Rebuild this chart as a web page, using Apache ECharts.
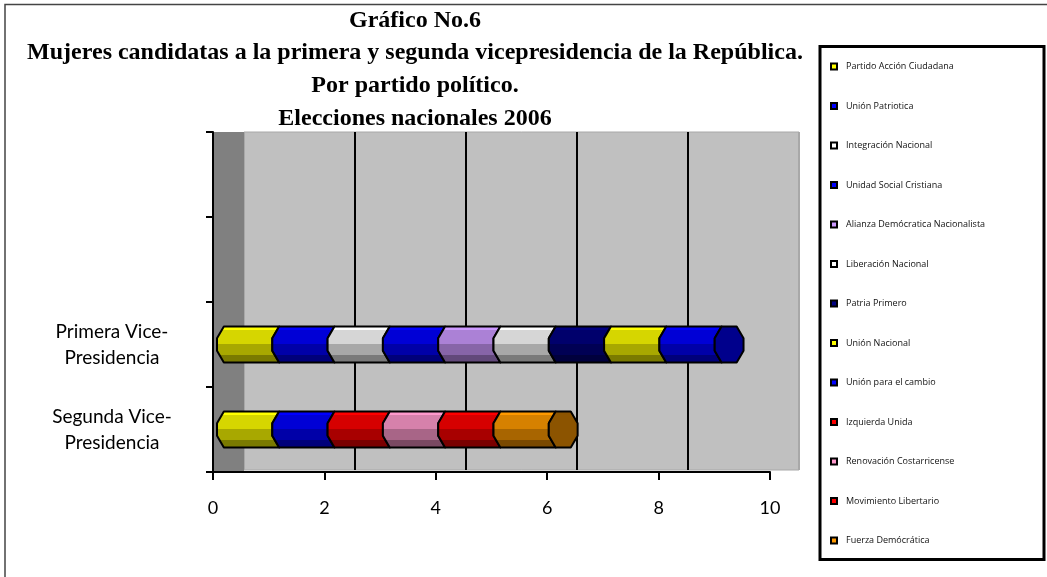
<!DOCTYPE html>
<html><head><meta charset="utf-8">
<script src="https://cdn.jsdelivr.net/npm/echarts@6/dist/echarts.min.js"></script>
<style>html,body{margin:0;padding:0;background:#fff}#c{width:1047px;height:577px}</style>
</head><body><div id="c"></div>
<script>
// ---- data ----
const categories = ['', '', 'Primera Vice-\nPresidencia', 'Segunda Vice-\nPresidencia'];
const parties = ['Partido Acción Ciudadana', 'Unión Patriotica', 'Integración Nacional', 'Unidad Social Cristiana',
  'Alianza Demócratica Nacionalista', 'Liberación Nacional', 'Patria Primero', 'Unión Nacional',
  'Unión para el cambio', 'Izquierda Unida', 'Renovación Costarricense', 'Movimiento Libertario', 'Fuerza Demócrática'];
const primera = [1, 1, 1, 1, 1, 1, 1, 1, 1, 0, 0, 0, 0];
const segunda = [1, 1, 0, 0, 0, 0, 0, 0, 0, 1, 1, 1, 1];
const xMin = 0, xMax = 10, xInterval = 2;
const titleLines = ['Gráfico No.6', 'Mujeres candidatas a la primera y segunda vicepresidencia de la República.',
  'Por partido político.', 'Elecciones nacionales 2006'];

// ---- styles ----
const partyColors = ['#ffff00', '#0000ff', '#ffffff', '#0000ff', '#cc99ff', '#ffffff', '#000080', '#ffff00',
  '#0000ff', '#ff0000', '#ff99cc', '#ff0000', '#ff9900'];

function shade(hex, f) {
  const n = parseInt(hex.slice(1), 16);
  const r = Math.round(((n >> 16) & 255) * f), g = Math.round(((n >> 8) & 255) * f), b = Math.round((n & 255) * f);
  return 'rgb(' + r + ',' + g + ',' + b + ')';
}
function grad(c) {
  const s = [1, 0.84, 0.66, 0.48];
  return new echarts.graphic.LinearGradient(0, 0, 0, 1, [
    {offset: 0, color: shade(c, s[0])}, {offset: 0.12, color: shade(c, s[0])},
    {offset: 0.12, color: shade(c, s[1])}, {offset: 0.48, color: shade(c, s[1])},
    {offset: 0.48, color: shade(c, s[2])}, {offset: 0.77, color: shade(c, s[2])},
    {offset: 0.77, color: shade(c, s[3])}, {offset: 1, color: shade(c, s[3])}
  ]);
}

// stacking
const rows = [[2, primera], [3, segunda]];
const starts = {}, lastIdx = {};
rows.forEach(([ci, arr]) => {
  let acc = 0; starts[ci] = [];
  arr.forEach((v, k) => { starts[ci][k] = acc; acc += v; if (v > 0) lastIdx[ci] = k; });
});

function renderItem(params, api) {
  const ci = api.value(0), s = api.value(1), e = api.value(2), last = api.value(3);
  const a = api.coord([s, ci]), b = api.coord([e, ci]);
  const band = api.size([0, 1])[1];
  const h = band * 0.212, d = h * 0.38, m = h * 0.35, cy = a[1];
  const top = cy - h, bot = cy + h, x0 = a[0], x1 = b[0];
  const base = partyColors[params.seriesIndex];
  const children = [{
    type: 'polygon',
    shape: {points: [[x0 + d, top], [x1 + d, top], [x1, cy - m], [x1, cy + m], [x1 + d, bot], [x0 + d, bot], [x0, cy + m], [x0, cy - m]]},
    style: {fill: grad(base), stroke: '#000', lineWidth: 2, lineJoin: 'round'}
  }];
  if (last) {
    const W = h * 1.6;
    children.push({
      type: 'polygon',
      shape: {points: [[x1, cy - m], [x1 + d, top], [x1 + W - d, top], [x1 + W, cy - m], [x1 + W, cy + m], [x1 + W - d, bot], [x1 + d, bot], [x1, cy + m]]},
      style: {fill: shade(base, 0.55), stroke: '#000', lineWidth: 2, lineJoin: 'round'}
    });
  }
  return {type: 'group', children};
}

const series = parties.map((name, k) => {
  const data = [];
  rows.forEach(([ci, arr]) => {
    if (arr[k] > 0) data.push([ci, starts[ci][k], starts[ci][k] + arr[k], k === lastIdx[ci] ? 1 : 0]);
  });
  return {type: 'custom', name, xAxisIndex: 2, yAxisIndex: 2, itemStyle: {color: partyColors[k]},
    renderItem, data, encode: {x: [1, 2], y: 0}, z: 3};
});

const chart = echarts.init(document.getElementById('c'), null, {renderer: 'canvas'});
chart.setOption({
  backgroundColor: '#fff',
  animation: false,
  title: {
    text: titleLines.join('\n'), left: 410, top: -1, textAlign: 'center',
    textStyle: {fontFamily: 'Liberation Serif', fontWeight: 'bold', fontSize: 24, lineHeight: 32.7, color: '#000'}
  },
  legend: {
    orient: 'vertical', left: 830, top: 60.5, padding: 0, itemWidth: 6, itemHeight: 6, itemGap: 27.5, icon: 'rect',
    selectedMode: false, data: parties,
    itemStyle: {borderColor: '#000', borderWidth: 2},
    textStyle: {fontFamily: 'Open Sans', fontSize: 9, color: '#111', lineHeight: 12, padding: [0, 0, 0, 4]}
  },
  grid: [
    {left: 244, top: 132, width: 555, height: 338, show: true, backgroundColor: '#c0c0c0', borderColor: '#a8a8a8', borderWidth: 1},
    {left: 213, top: 132, width: 557, height: 340},
    {left: 217, top: 132, width: 553, height: 340}
  ],
  xAxis: [
    {gridIndex: 0, type: 'value', min: xMin, max: xMax, interval: xInterval, axisLine: {show: false}, axisTick: {show: false},
      axisLabel: {show: false}, splitLine: {show: true, lineStyle: {color: ['#a8a8a8', '#000', '#000', '#000', '#000', '#a8a8a8'], width: 2}}},
    {gridIndex: 1, type: 'value', min: xMin, max: xMax, interval: xInterval, z: 5,
      axisLine: {show: true, lineStyle: {color: '#000', width: 2}},
      axisTick: {show: true, length: 8, lineStyle: {color: '#000', width: 2}},
      axisLabel: {fontFamily: 'Lato', fontSize: 18, color: '#000', margin: 27}, splitLine: {show: false}},
    {gridIndex: 2, type: 'value', min: xMin, max: xMax, show: false, splitLine: {show: false}}
  ],
  yAxis: [
    {gridIndex: 0, type: 'category', data: categories, inverse: true, show: false},
    {gridIndex: 1, type: 'category', data: categories, inverse: true, z: 5,
      axisLine: {show: true, lineStyle: {color: '#000', width: 2}},
      axisTick: {show: true, length: 7, interval: 0, lineStyle: {color: '#000', width: 2}},
      axisLabel: {interval: 0, align: 'center', margin: 101, fontFamily: 'Lato', fontSize: 19, lineHeight: 26, color: '#000'}},
    {gridIndex: 2, type: 'category', data: categories, inverse: true, show: false}
  ],
  graphic: [
    {type: 'rect', shape: {x: 214, y: 132, width: 30, height: 339}, style: {fill: '#808080'}, z: 1},
    {type: 'polyline', shape: {points: [[5, 577], [5, 4.5], [1047, 4.5]]}, style: {stroke: '#444', lineWidth: 1.5, fill: null}},
    {type: 'rect', shape: {x: 820, y: 46.5, width: 224, height: 513}, style: {stroke: '#000', lineWidth: 3, fill: 'transparent'}}
  ],
  series
});
</script></body></html>
